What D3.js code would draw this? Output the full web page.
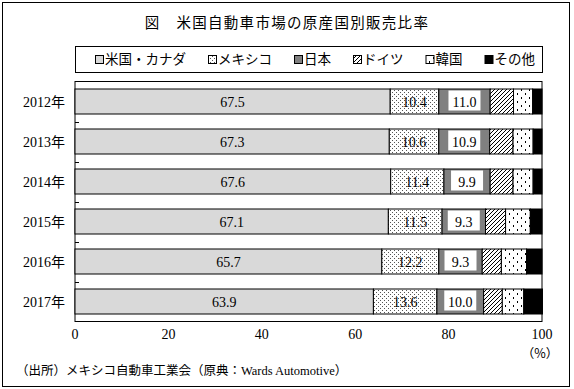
<!DOCTYPE html>
<html>
<head>
<meta charset="utf-8">
<script src="https://cdn.jsdelivr.net/npm/d3@7"></script>
<style>
  body { margin: 0; background: #fff; }
  svg { display: block; font-family: "Liberation Serif", "Noto Sans CJK JP", sans-serif; }
  .jp { font-family: "Noto Sans CJK JP", sans-serif; }
</style>
</head>
<body>
<div id="chart"></div>
<script>
// data
const years = ["2012年", "2013年", "2014年", "2015年", "2016年", "2017年"];
const usCanada = [67.5, 67.3, 67.6, 67.1, 65.7, 63.9];
const mexico = [10.4, 10.6, 11.4, 11.5, 12.2, 13.6];
const japan = [11.0, 10.9, 9.9, 9.3, 9.3, 10.0];
const germany = [5.0, 5.0, 4.9, 4.3, 4.1, 4.0];
const korea = [4.1, 4.3, 4.3, 5.3, 5.4, 4.6];
const other = [2.0, 1.9, 1.9, 2.5, 3.3, 4.0];
const seriesNames = ["米国・カナダ", "メキシコ", "日本", "ドイツ", "韓国", "その他"];
const xTicks = [0, 20, 40, 60, 80, 100];

const keys = ["us", "mx", "jp", "de", "kr", "ot"];
const rows = years.map((y, i) => ({
    year: y, us: usCanada[i], mx: mexico[i], jp: japan[i],
    de: germany[i], kr: korea[i], ot: other[i]
}));

const W = 574, H = 389;
const svg = d3.select("#chart").append("svg")
    .attr("width", W).attr("height", H);

// patterns
const defs = svg.append("defs");
const pFine = defs.append("pattern").attr("id", "fine")
    .attr("patternUnits", "userSpaceOnUse").attr("width", 4).attr("height", 4);
pFine.append("rect").attr("width", 4).attr("height", 4).attr("fill", "#fff");
pFine.append("rect").attr("x", 0).attr("y", 0).attr("width", 1).attr("height", 1).attr("fill", "#555");
pFine.append("rect").attr("x", 2).attr("y", 2).attr("width", 1).attr("height", 1).attr("fill", "#555");

const pHatch = defs.append("pattern").attr("id", "hatch")
    .attr("patternUnits", "userSpaceOnUse").attr("width", 4).attr("height", 4);
pHatch.append("rect").attr("width", 4).attr("height", 4).attr("fill", "#fff");
pHatch.append("path").attr("d", "M-1,1 L1,-1 M0,4 L4,0 M3,5 L5,3")
    .attr("stroke", "#000").attr("stroke-width", 1);

const pSparse = defs.append("pattern").attr("id", "sparse")
    .attr("patternUnits", "userSpaceOnUse").attr("width", 8).attr("height", 8);
pSparse.append("rect").attr("width", 8).attr("height", 8).attr("fill", "#fff");
pSparse.append("rect").attr("x", 1).attr("y", 1).attr("width", 1).attr("height", 2).attr("fill", "#000");
pSparse.append("rect").attr("x", 5).attr("y", 5).attr("width", 1).attr("height", 2).attr("fill", "#000");

const fills = {
    us: "#d9d9d9", mx: "url(#fine)", jp: "#808080",
    de: "url(#hatch)", kr: "url(#sparse)", ot: "#000"
};

// outer frame
svg.append("rect")
    .attr("x", 2.5).attr("y", 2.5).attr("width", 567).attr("height", 384)
    .attr("fill", "none").attr("stroke", "#000");

// title
svg.append("text").attr("class", "jp")
    .attr("x", 287).attr("y", 28)
    .attr("text-anchor", "middle")
    .attr("font-size", "14.5px")
    .attr("letter-spacing", "1.3px")
    .text("図\u3000米国自動車市場の原産国別販売比率");

// scales
const x = d3.scaleLinear().domain([0, 100]).range([75, 542]);
const y = d3.scaleBand().domain(years).range([81.5, 321.5])
    .paddingInner(0.375).paddingOuter(0.1875);

// legend
svg.append("rect")
    .attr("x", 75.5).attr("y", 46.5).attr("width", 467).attr("height", 26)
    .attr("fill", "#fff").attr("stroke", "#000");

let lx = 95;
keys.forEach((k, i) => {
    svg.append("rect")
        .attr("x", lx + 0.5).attr("y", 55.5).attr("width", 8).attr("height", 8)
        .attr("fill", fills[k]).attr("stroke", "#000");
    const t = svg.append("text").attr("class", "jp")
        .attr("x", lx + 10).attr("y", 64)
        .attr("font-size", "13.5px")
        .text(seriesNames[i]);
    lx += 10 + t.node().getComputedTextLength() + 22;
});

// plot frame
svg.append("rect")
    .attr("x", 75).attr("y", 81.5).attr("width", 467).attr("height", 240)
    .attr("fill", "#fff").attr("stroke", "#000");

// bars
const stacked = d3.stack().keys(keys)(rows);
svg.append("g").selectAll("g")
    .data(stacked)
    .join("g")
    .attr("fill", d => fills[d.key])
    .selectAll("rect")
    .data(d => d)
    .join("rect")
    .attr("x", d => x(d[0]))
    .attr("y", d => y(d.data.year))
    .attr("width", d => x(d[1]) - x(d[0]))
    .attr("height", y.bandwidth())
    .attr("stroke", "#000")
    .attr("stroke-width", 1);

// category ticks (inward)
const step = y.step();
years.slice(1).forEach(yr => {
    const yy = Math.round(y(yr) - (step - y.bandwidth()) / 2) + 0.5;
    svg.append("line")
        .attr("x1", 75).attr("x2", 79)
        .attr("y1", yy).attr("y2", yy)
        .attr("stroke", "#000");
});

// value labels
const labelKeys = ["us", "mx", "jp"];
stacked.filter(s => labelKeys.includes(s.key)).forEach(s => {
    s.forEach(d => {
        const cx = (x(d[0]) + x(d[1])) / 2;
        const cy = y(d.data.year) + y.bandwidth() / 2;
        if (s.key === "jp") {
            svg.append("rect")
                .attr("x", cx - 16).attr("y", cy - 11)
                .attr("width", 32).attr("height", 20)
                .attr("fill", "#fff");
        }
        svg.append("text")
            .attr("x", cx).attr("y", cy + 5)
            .attr("text-anchor", "middle")
            .attr("font-size", "14px")
            .text(d.data[s.key].toFixed(1));
    });
});

// y labels
svg.append("g").selectAll("text")
    .data(years)
    .join("text")
    .attr("x", 65)
    .attr("y", d => y(d) + y.bandwidth() / 2 + 5)
    .attr("text-anchor", "end")
    .attr("font-size", "14px")
    .text(d => d);

// x labels
svg.append("g").selectAll("text")
    .data(xTicks)
    .join("text")
    .attr("x", d => x(d))
    .attr("y", 339)
    .attr("text-anchor", "middle")
    .attr("font-size", "14px")
    .text(d => d);

svg.append("text").attr("class", "jp")
    .attr("x", x(100) - 2).attr("y", 358)
    .attr("text-anchor", "middle")
    .attr("font-size", "12.5px")
    .text("（%）");

// source
svg.append("text")
    .attr("x", 16).attr("y", 375)
    .attr("font-size", "12.5px")
    .text("（出所）メキシコ自動車工業会（原典：Wards Automotive）");
</script>
</body>
</html>
